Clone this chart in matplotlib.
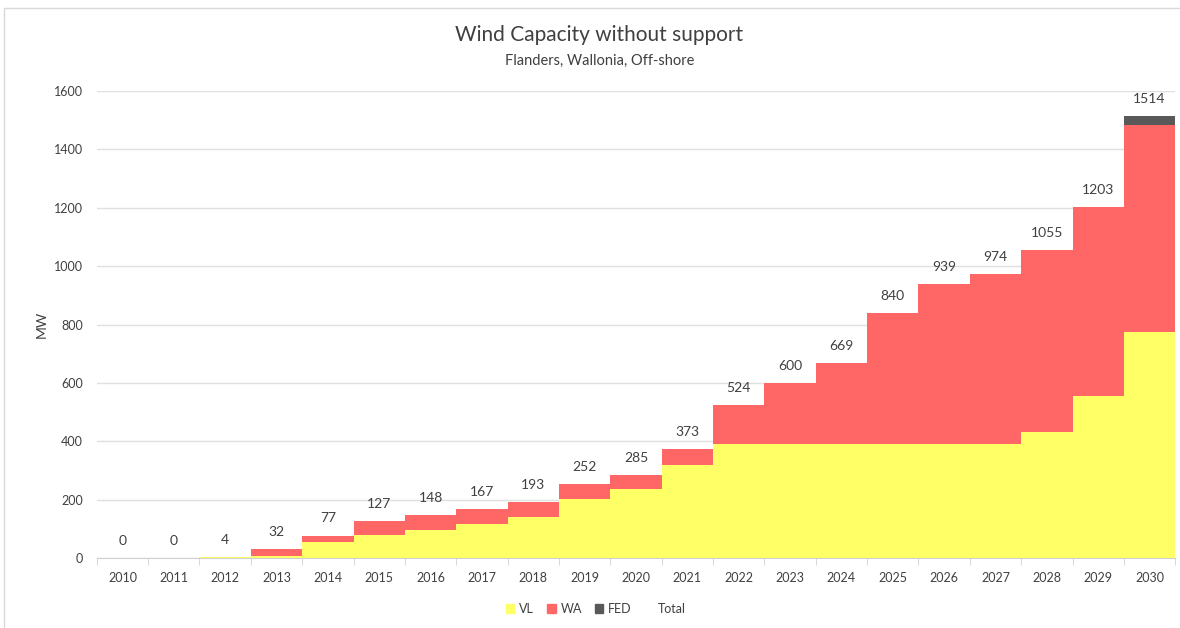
import numpy as np
import matplotlib.pyplot as plt
from matplotlib.lines import Line2D
from matplotlib.patches import Patch, Rectangle

plt.rcParams['font.family'] = ['Lato', 'DejaVu Sans']

years = [str(y) for y in range(2010, 2031)]
total = [0, 0, 4, 32, 77, 127, 148, 167, 193, 252, 285, 373,
         524, 600, 669, 840, 939, 974, 1055, 1203, 1514]
vl = [0, 0, 4, 8, 55, 78, 96, 117, 141, 203, 236, 319,
      390, 390, 390, 390, 390, 390, 431, 555, 775]
fed = [0, 0, 0, 0, 0, 0, 0, 0, 0, 0, 0, 0,
       0, 0, 0, 0, 0, 0, 0, 0, 30]
wa = [t - v - f for t, v, f in zip(total, vl, fed)]

c_vl = '#FFFF66'
c_wa = '#FF6666'
c_fed = '#595959'
txt = '#404040'

fig = plt.figure(figsize=(11.8, 6.28), dpi=100)
ax = fig.add_axes([0.082, 0.1115, 0.914, 0.7435])

x = np.arange(len(years))
ax.bar(x, vl, width=1.0, color=c_vl, zorder=2)
ax.bar(x, wa, width=1.0, bottom=vl, color=c_wa, zorder=2)
ax.bar(x, fed, width=1.0, bottom=np.array(vl) + np.array(wa), color=c_fed, zorder=2)

for xi, t in zip(x, total):
    ax.annotate(str(t), (xi, t), xytext=(0, 8), textcoords='offset points',
                ha='center', va='bottom', fontsize=10, color=txt)

ax.set_xlim(-0.5, len(years) - 0.5)
ax.set_ylim(0, 1600)
ax.set_yticks(range(0, 1601, 200))
ax.set_xticks(x)
ax.set_xticklabels(years)
ax.set_xticks(np.arange(-0.5, len(years), 1.0), minor=True)
ax.tick_params(axis='x', which='major', length=0, labelsize=9, colors=txt, pad=10)
ax.tick_params(axis='x', which='minor', length=5, color='#d0d0d0')
ax.tick_params(axis='y', length=0, labelsize=9, colors=txt, pad=10)
ax.grid(axis='y', color='#e0e0e0', linewidth=1, zorder=0)
for s in ['top', 'right', 'left']:
    ax.spines[s].set_visible(False)
ax.spines['bottom'].set_color('#d0d0d0')
ax.set_ylabel('MW', fontsize=10, color=txt, labelpad=4)

fig.text(0.508, 0.944, 'Wind Capacity without support', ha='center', va='center',
         fontsize=15, color=txt)
fig.text(0.508, 0.903, 'Flanders, Wallonia, Off-shore', ha='center', va='center',
         fontsize=10.5, color=txt)

handles = [Patch(color=c_vl, label='VL'), Patch(color=c_wa, label='WA'),
           Patch(color=c_fed, label='FED'), Line2D([], [], color='none', label='Total')]
fig.legend(handles=handles, loc='center', bbox_to_anchor=(0.505, 0.03), ncol=4,
           frameon=False, fontsize=9, handlelength=0.7, handleheight=0.7,
           handletextpad=0.4, columnspacing=1.0, labelcolor=txt)

fig.patches.append(Rectangle((0.003, -0.01), 1.1, 0.997, transform=fig.transFigure,
                             fill=False, edgecolor='#d9d9d9', linewidth=1))

fig.savefig('out.png', dpi=100)
